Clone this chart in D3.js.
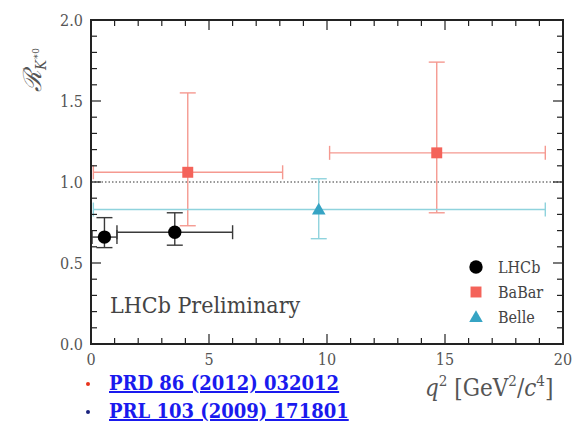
<!DOCTYPE html>
<html>
<head>
<meta charset="utf-8">
<script src="https://cdn.jsdelivr.net/npm/d3@7"></script>
<style>
    html, body { margin: 0; padding: 0; background: #fff; }
    svg { display: block; }
    text { font-family: "DejaVu Serif Condensed", "DejaVu Serif", serif; }
    .tick-label { fill: #555; }
</style>
</head>
<body>
<svg id="chart" width="573" height="422"></svg>
<script>

// ##################################################
// #  Data                                          #
// ##################################################

let lhcbQ = [0.57, 3.55];
let lhcbQLo = [0.045, 1.1];
let lhcbQHi = [1.1, 6.0];
let lhcbR = [0.66, 0.69];
let lhcbRLo = [0.595, 0.61];
let lhcbRHi = [0.78, 0.81];

let babarQ = [4.1, 14.65];
let babarQLo = [0.1, 10.11];
let babarQHi = [8.12, 19.25];
let babarR = [1.06, 1.18];
let babarRLo = [0.73, 0.81];
let babarRHi = [1.55, 1.74];

let belleQ = [9.65];
let belleQLo = [0.1];
let belleQHi = [19.25];
let belleR = [0.83];
let belleRLo = [0.65];
let belleRHi = [1.02];

let xTicks = [0, 5, 10, 15, 20];
let yTicks = [0.0, 0.5, 1.0, 1.5, 2.0];
let legendNames = ['LHCb', 'BaBar', 'Belle'];
let refLinks = ['PRD 86 (2012) 032012', 'PRL 103 (2009) 171801'];

// ##################################################
// #  Layout                                        #
// ##################################################

let margin = {top: 20, right: 10, bottom: 78, left: 91};
let width = 573 - margin.left - margin.right;
let height = 422 - margin.top - margin.bottom;

let x = d3.scaleLinear().domain([0, 20]).range([0, width]);
let y = d3.scaleLinear().domain([0, 2]).range([height, 0]);

let svg = d3.select('#chart');
let plot = svg.append('g')
    .attr('transform', `translate(${margin.left},${margin.top})`);

function series(qs, qlo, qhi, rs, rlo, rhi) {
    return qs.map((q, i) => ({q, qlo: qlo[i], qhi: qhi[i], r: rs[i], rlo: rlo[i], rhi: rhi[i]}));
}

let lhcb = series(lhcbQ, lhcbQLo, lhcbQHi, lhcbR, lhcbRLo, lhcbRHi);
let babar = series(babarQ, babarQLo, babarQHi, babarR, babarRLo, babarRHi);
let belle = series(belleQ, belleQLo, belleQHi, belleR, belleRLo, belleRHi);

// reference line at 1
plot.append('line')
    .attr('x1', 0).attr('x2', width)
    .attr('y1', y(1)).attr('y2', y(1))
    .attr('stroke', '#333')
    .attr('stroke-width', 1)
    .attr('stroke-dasharray', '1.5,2');

// ##################################################
// #  Error bars                                    #
// ##################################################

function errorBars(data, lineColor, lineWidth) {
    let g = plot.append('g').attr('stroke', lineColor).attr('stroke-width', lineWidth).attr('fill', 'none');
    let capW = 8, capH = 7;
    data.forEach(d => {
        g.append('line').attr('x1', x(d.qlo)).attr('x2', x(d.qhi)).attr('y1', y(d.r)).attr('y2', y(d.r));
        g.append('line').attr('x1', x(d.q)).attr('x2', x(d.q)).attr('y1', y(d.rlo)).attr('y2', y(d.rhi));
        [d.qlo, d.qhi].forEach(v => g.append('line')
            .attr('x1', x(v)).attr('x2', x(v)).attr('y1', y(d.r) - capH).attr('y2', y(d.r) + capH));
        [d.rlo, d.rhi].forEach(v => g.append('line')
            .attr('x1', x(d.q) - capW).attr('x2', x(d.q) + capW).attr('y1', y(v)).attr('y2', y(v)));
    });
}

errorBars(babar, '#f59990', 1.4);
errorBars(belle, '#8fd3dd', 1.4);
errorBars(lhcb, '#3a3a3a', 1.4);

// ##################################################
// #  Markers                                       #
// ##################################################

let circle = d3.symbol().type(d3.symbolCircle).size(140);
let square = d3.symbol().type(d3.symbolSquare).size(120);
let triangle = d3.symbol().type(d3.symbolTriangle).size(80);

plot.selectAll('.babar').data(babar).enter().append('path')
    .attr('class', 'babar')
    .attr('d', square)
    .attr('transform', d => `translate(${x(d.q)},${y(d.r)})`)
    .attr('fill', '#f4635a');

plot.selectAll('.belle').data(belle).enter().append('path')
    .attr('class', 'belle')
    .attr('d', triangle)
    .attr('transform', d => `translate(${x(d.q)},${y(d.r) + 1})`)
    .attr('fill', '#36a4c4');

plot.selectAll('.lhcb').data(lhcb).enter().append('path')
    .attr('class', 'lhcb')
    .attr('d', circle)
    .attr('transform', d => `translate(${x(d.q)},${y(d.r)})`)
    .attr('fill', '#000');

// ##################################################
// #  Axes                                          #
// ##################################################

let axes = plot.append('g').attr('stroke', '#222').attr('fill', 'none');

// minor/major ticks on all four sides, pointing inward
d3.range(0, 20.001, 1).forEach(v => {
    let len = v % 5 === 0 ? 10 : 6;
    axes.append('line').attr('x1', x(v)).attr('x2', x(v)).attr('y1', height).attr('y2', height - len).attr('stroke-width', 1.2);
    axes.append('line').attr('x1', x(v)).attr('x2', x(v)).attr('y1', 0).attr('y2', len).attr('stroke-width', 1.2);
});
d3.range(0, 20.001, 1).forEach(k => {
    let v = k / 10;
    let len = k % 5 === 0 ? 10 : 6;
    axes.append('line').attr('x1', 0).attr('x2', len).attr('y1', y(v)).attr('y2', y(v)).attr('stroke-width', 1.2);
    axes.append('line').attr('x1', width).attr('x2', width - len).attr('y1', y(v)).attr('y2', y(v)).attr('stroke-width', 1.2);
});

axes.append('rect')
    .attr('x', 0).attr('y', 0)
    .attr('width', width).attr('height', height)
    .attr('stroke-width', 2);

plot.selectAll('.x-label').data(xTicks).enter().append('text')
    .attr('class', 'tick-label x-label')
    .attr('x', d => x(d))
    .attr('y', height + 21)
    .attr('text-anchor', 'middle')
    .attr('font-size', 16)
    .text(d => d);

plot.selectAll('.y-label').data(yTicks).enter().append('text')
    .attr('class', 'tick-label y-label')
    .attr('x', -8)
    .attr('y', d => y(d) + 6)
    .attr('text-anchor', 'end')
    .attr('font-size', 16)
    .text(d => d.toFixed(1));

// axis titles
let xTitle = svg.append('text')
    .attr('class', 'tick-label')
    .attr('x', 425)
    .attr('y', 396)
    .attr('font-size', 24);
xTitle.append('tspan').attr('font-style', 'italic').text('q');
xTitle.append('tspan').attr('dy', -10).attr('font-size', 15).text('2');
xTitle.append('tspan').attr('dy', 10).text(' [GeV');
xTitle.append('tspan').attr('dy', -10).attr('font-size', 15).text('2');
xTitle.append('tspan').attr('dy', 10).text('/');
xTitle.append('tspan').attr('font-style', 'italic').text('c');
xTitle.append('tspan').attr('dy', -10).attr('font-size', 15).text('4');
xTitle.append('tspan').attr('dy', 10).text(']');

let yTitle = svg.append('text')
    .attr('class', 'tick-label')
    .attr('transform', 'translate(41,92) rotate(-90)')
    .attr('font-size', 25)
    .attr('fill', '#333');
yTitle.append('tspan').attr('font-style', 'italic').text('\u211B');
yTitle.append('tspan').attr('dy', 5).attr('font-size', 15).attr('font-style', 'italic').text('K');
yTitle.append('tspan').attr('dy', -7).attr('font-size', 10).text('\u22170');

// watermark
plot.append('text')
    .attr('x', 19)
    .attr('y', 293)
    .attr('font-size', 23)
    .attr('fill', '#444')
    .text('LHCb Preliminary');

// ##################################################
// #  Legend                                        #
// ##################################################

let legendSymbols = [circle, square, triangle];
let legendColors = ['#000', '#f4635a', '#36a4c4'];
let legend = svg.append('g').attr('transform', 'translate(476,267)');
legendNames.forEach((name, i) => {
    let row = legend.append('g').attr('transform', `translate(0,${i * 25})`);
    row.append('path')
        .attr('d', legendSymbols[i])
        .attr('transform', i === 2 ? 'translate(0,1)' : null)
        .attr('fill', legendColors[i]);
    row.append('text')
        .attr('x', 22)
        .attr('y', 6)
        .attr('font-size', 16)
        .attr('fill', '#444')
        .text(name);
});

// ##################################################
// #  References                                    #
// ##################################################

let bulletColors = ['#e8331c', '#1a237e'];
refLinks.forEach((ref, i) => {
    let yy = 390 + i * 28;
    svg.append('circle')
        .attr('cx', 88)
        .attr('cy', yy - 6)
        .attr('r', 2)
        .attr('fill', bulletColors[i]);
    svg.append('text')
        .attr('x', 109)
        .attr('y', yy)
        .attr('font-weight', 'bold')
        .attr('font-size', 20)
        .attr('fill', '#1a1aee')
        .attr('text-decoration', 'underline')
        .text(ref);
});

</script>
</body>
</html>
